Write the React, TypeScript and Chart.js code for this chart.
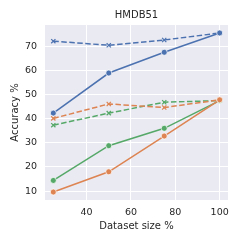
import React, { useEffect, useRef } from "react";
import { Chart, registerables } from "chart.js";

Chart.register(...registerables);

const chartTitle = "HMDB51";
const xLabel = "Dataset size %";
const yLabel = "Accuracy %";
const datasetSizes = [25, 50, 75, 100];
const xTicks = [40, 60, 80, 100];
const yTicks = [10, 20, 30, 40, 50, 60, 70];
const blueSolid = [42.3, 58.9, 67.5, 75.5];
const blueDashed = [72.1, 70.4, 72.6, 75.5];
const orangeSolid = [9.6, 18.0, 32.8, 47.8];
const orangeDashed = [40.1, 46.1, 44.6, 47.8];
const greenSolid = [14.4, 28.8, 36.0, 47.5];
const greenDashed = [37.3, 42.3, 46.8, 47.5];

const BLUE = "#4c72b0";
const ORANGE = "#dd8452";
const GREEN = "#55a868";
const FONT = "'DejaVu Sans', sans-serif";
const TEXT = "#262626";

function toPoints(values: number[]) {
  return values.map((v, i) => ({ x: datasetSizes[i], y: v }));
}

function solid(label: string, values: number[], color: string) {
  return {
    label,
    data: toPoints(values),
    borderColor: color,
    backgroundColor: color,
    borderWidth: 1.5,
    pointStyle: "circle" as const,
    pointRadius: 3,
    pointBorderColor: "#ffffff",
    pointBorderWidth: 0.7,
    pointBackgroundColor: color,
    tension: 0,
  };
}

function dashed(label: string, values: number[], color: string) {
  return {
    label,
    data: toPoints(values),
    borderColor: color,
    backgroundColor: color,
    borderWidth: 1.5,
    borderDash: [5.5, 2.5],
    pointStyle: "crossRot" as const,
    pointRadius: 3,
    pointBorderColor: color,
    pointBorderWidth: 1.2,
    tension: 0,
  };
}

const bgPlugin = {
  id: "bgPlugin",
  beforeDraw(chart: any) {
    const { ctx, chartArea } = chart;
    ctx.save();
    ctx.fillStyle = "#eaeaf2";
    ctx.fillRect(chartArea.left, chartArea.top, chartArea.right - chartArea.left, chartArea.bottom - chartArea.top);
    ctx.restore();
  },
};

export default function App() {
  const ref = useRef<HTMLCanvasElement | null>(null);
  useEffect(() => {
    if (!ref.current) return;
    const chart = new Chart(ref.current, {
      type: "line",
      data: {
        datasets: [
          solid("blue", blueSolid, BLUE),
          dashed("blue dashed", blueDashed, BLUE),
          solid("orange", orangeSolid, ORANGE),
          dashed("orange dashed", orangeDashed, ORANGE),
          solid("green", greenSolid, GREEN),
          dashed("green dashed", greenDashed, GREEN),
        ] as any,
      },
      options: {
        animation: false,
        responsive: false,
        layout: { padding: { right: 15, left: 0, top: 0, bottom: 0 } },
        plugins: {
          legend: { display: false },
          tooltip: { enabled: false },
          title: {
            display: true,
            text: chartTitle,
            fullSize: false,
            color: TEXT,
            font: { family: FONT, size: 10, weight: "normal" },
            padding: { top: 9.7, bottom: 3.3 },
          },
        },
        scales: {
          x: {
            type: "linear",
            min: 21.25,
            max: 103.75,
            afterBuildTicks: (s: any) => {
              s.ticks = xTicks.map((v) => ({ value: v }));
            },
            afterFit: (s: any) => {
              s.height = 43;
            },
            grid: { color: "#ffffff", lineWidth: 1, drawTicks: false },
            border: { display: false },
            ticks: { color: TEXT, font: { family: FONT, size: 9.5 }, padding: 6.5, maxRotation: 0 },
            title: {
              display: true,
              text: xLabel,
              color: TEXT,
              font: { family: FONT, size: 10 },
              padding: { top: 0, bottom: 10.3 },
            },
          },
          y: {
            type: "linear",
            min: 6.3,
            max: 78.8,
            afterBuildTicks: (s: any) => {
              s.ticks = yTicks.map((v) => ({ value: v }));
            },
            afterFit: (s: any) => {
              s.width = 45;
            },
            grid: { color: "#ffffff", lineWidth: 1, drawTicks: false },
            border: { display: false },
            ticks: { color: TEXT, font: { family: FONT, size: 9.5 }, padding: 8 },
            title: {
              display: true,
              text: yLabel,
              color: TEXT,
              font: { family: FONT, size: 10 },
              padding: { top: 9, bottom: 0 },
            },
          },
        },
      } as any,
      plugins: [bgPlugin],
    });
    return () => chart.destroy();
  }, []);
  return (
    <div style={{ position: "fixed", left: 0, top: 0, width: 243, height: 243, background: "#ffffff" }}>
      <canvas ref={ref} width={243} height={243} style={{ width: 243, height: 243, display: "block" }} />
    </div>
  );
}
